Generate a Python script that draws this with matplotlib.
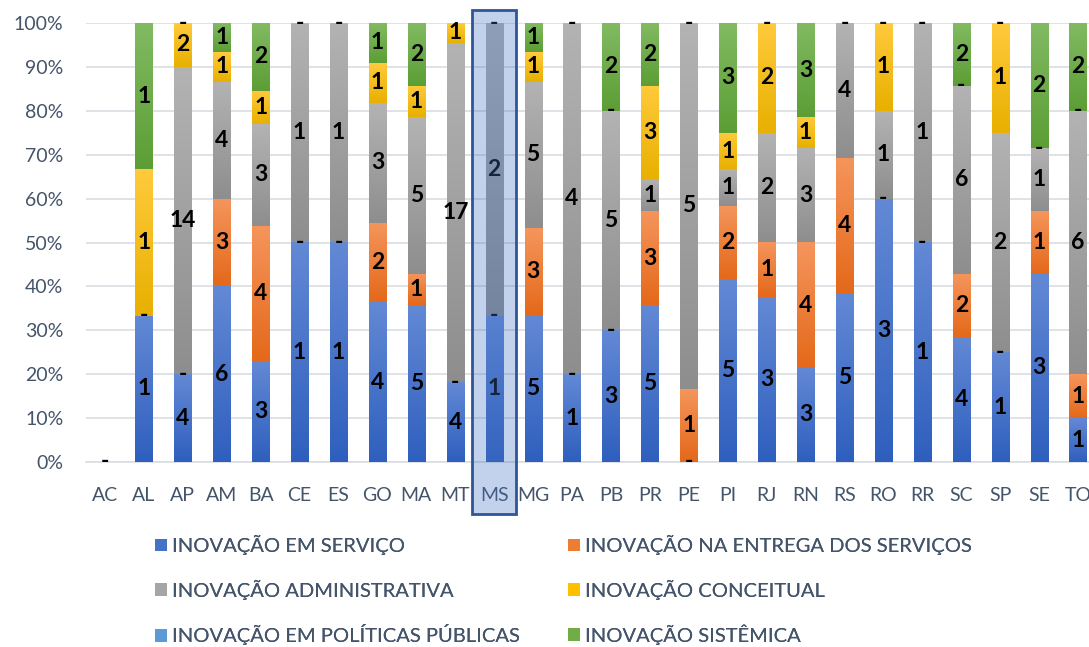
import numpy as np
import matplotlib
matplotlib.use("Agg")
import matplotlib.pyplot as plt
from matplotlib.patches import Rectangle, Patch
from matplotlib.colors import to_rgb
from matplotlib.transforms import blended_transform_factory

plt.rcParams['font.family'] = ['Lato', 'DejaVu Sans']

N = None  # empty cell (no label)

estados = ['AC', 'AL', 'AP', 'AM', 'BA', 'CE', 'ES', 'GO', 'MA', 'MT', 'MS', 'MG', 'PA',
           'PB', 'PR', 'PE', 'PI', 'RJ', 'RN', 'RS', 'RO', 'RR', 'SC', 'SP', 'SE', 'TO']

servico        = [0, 1, 4, 6, 3, 1, 1, 4, 5, 4, 1, 5, 1, 3, 5, 0, 5, 3, 3, 5, 3, 1, 4, 1, 3, 1]
entrega        = [N, 0, 0, 3, 4, 0, 0, 2, 1, 0, 0, 3, 0, 0, 3, 1, 2, 1, 4, 4, 0, 0, 2, 0, 1, 1]
administrativa = [N, N, 14, 4, 3, 1, 1, 3, 5, 17, 2, 5, 4, 5, 1, 5, 1, 2, 3, 4, 1, 1, 6, 2, 1, 6]
conceitual     = [N, 1, 2, 1, 1, N, N, 1, 1, 1, N, 1, N, 0, 3, N, 1, 2, 1, N, 1, N, 0, 1, 0, 0]
politicas      = [N] * 26
sistemica      = [N, 1, 0, 1, 2, 0, 0, 1, 2, N, 0, 1, 0, 2, 2, 0, 3, 0, 3, 0, 0, 0, 2, 0, 2, 2]

series_nomes = ['INOVAÇÃO EM SERVIÇO', 'INOVAÇÃO NA ENTREGA DOS SERVIÇOS',
                'INOVAÇÃO ADMINISTRATIVA', 'INOVAÇÃO CONCEITUAL',
                'INOVAÇÃO EM POLÍTICAS PÚBLICAS', 'INOVAÇÃO SISTÊMICA']
series = [servico, entrega, administrativa, conceitual, politicas, sistemica]

cores = ['#4472C4', '#ED7D31', '#A5A5A5', '#FFC000', '#5B9BD5', '#70AD47']
# (topo, base) of each bar segment's gradient
gradientes = [('#6389d5', '#2f5fbe'), ('#f5955c', '#e4691a'), ('#b3b3b3', '#8e8e8e'),
              ('#ffca3c', '#e8b000'), ('#7aaee0', '#4a87c5'), ('#82ba62', '#5c9e35')]
texto_cor = '#44546A'

W, H = 1089, 647
fig = plt.figure(figsize=(W / 100, H / 100), dpi=100)
ax = fig.add_axes([85.5 / W, (H - 462) / H, (1097.5 - 85.5) / W, (462 - 23) / H])

x = np.arange(len(estados))
vals = np.array([[np.nan if v is None else v for v in s] for s in series], dtype=float)
totais = np.nansum(vals, axis=0)
totais[totais == 0] = 1
largura = 0.44

def gradiente(topo, base, n=64):
    t = np.linspace(0, 1, n)[:, None]
    return (np.array(to_rgb(topo)) * (1 - t) + np.array(to_rgb(base)) * t)[:, None, :]

base = np.zeros(len(estados))
for k, s in enumerate(vals):
    frac = np.nan_to_num(s) / totais
    barras = ax.bar(x, frac, largura, bottom=base, color=cores[k], linewidth=0, zorder=2)
    grad = gradiente(*gradientes[k])
    for i, b in enumerate(barras):
        if frac[i] > 0:
            ax.imshow(grad, extent=(b.get_x(), b.get_x() + largura, base[i], base[i] + frac[i]),
                      aspect='auto', zorder=2.5, interpolation='bilinear')
        if not np.isnan(s[i]):
            rotulo = '-' if s[i] == 0 else f'{int(s[i])}'
            ax.text(x[i], base[i] + frac[i] / 2, rotulo, ha='center', va='center',
                    fontsize=16.5, fontweight='bold', color='black', zorder=4)
    base = base + frac

ax.set_xlim(-0.5, len(estados) - 0.5)
ax.set_ylim(0, 1)
ax.set_yticks(np.arange(0, 1.01, 0.1))
ax.set_yticklabels([f'{int(round(v * 100))}%' for v in np.arange(0, 1.01, 0.1)])
ax.set_xticks(x)
ax.set_xticklabels(estados)
ax.tick_params(axis='both', length=0, labelsize=14, labelcolor=texto_cor)
ax.tick_params(axis='x', pad=18)
ax.tick_params(axis='y', pad=16)
ax.grid(axis='y', color='#d9dde3', linewidth=1.2, zorder=0)
ax.set_axisbelow(True)
for lado in ['top', 'right', 'left']:
    ax.spines[lado].set_visible(False)
ax.spines['bottom'].set_color('#d9dde3')
ax.spines['bottom'].set_linewidth(1.2)
ax.spines['bottom'].set_zorder(1)

# selected category frame (MS)
i_ms = estados.index('MS')
trans = blended_transform_factory(ax.transData, fig.transFigure)
ax.add_patch(Rectangle((i_ms - 0.565, (H - 514) / H), 1.13, (514 - 10) / H, transform=trans,
                       facecolor=(0.267, 0.447, 0.769, 0.32), edgecolor='#2f5597',
                       linewidth=2, zorder=10, clip_on=False))

# legend in two columns, filled row by row
alcas = [Patch(facecolor=c, edgecolor='none') for c in cores]
for col, idx, x0 in [(0, [0, 2, 4], 155), (1, [1, 3, 5], 568)]:
    leg = fig.legend([alcas[j] for j in idx], [series_nomes[j] for j in idx],
                     loc='upper left', bbox_to_anchor=(x0 / W, (H - 535) / H),
                     frameon=False, fontsize=14.5, labelcolor=texto_cor,
                     handlelength=0.6, handleheight=0.6, handletextpad=0.25,
                     labelspacing=1.22, borderpad=0, borderaxespad=0)
    fig.add_artist(leg)

fig.savefig('out.png', dpi=100)
